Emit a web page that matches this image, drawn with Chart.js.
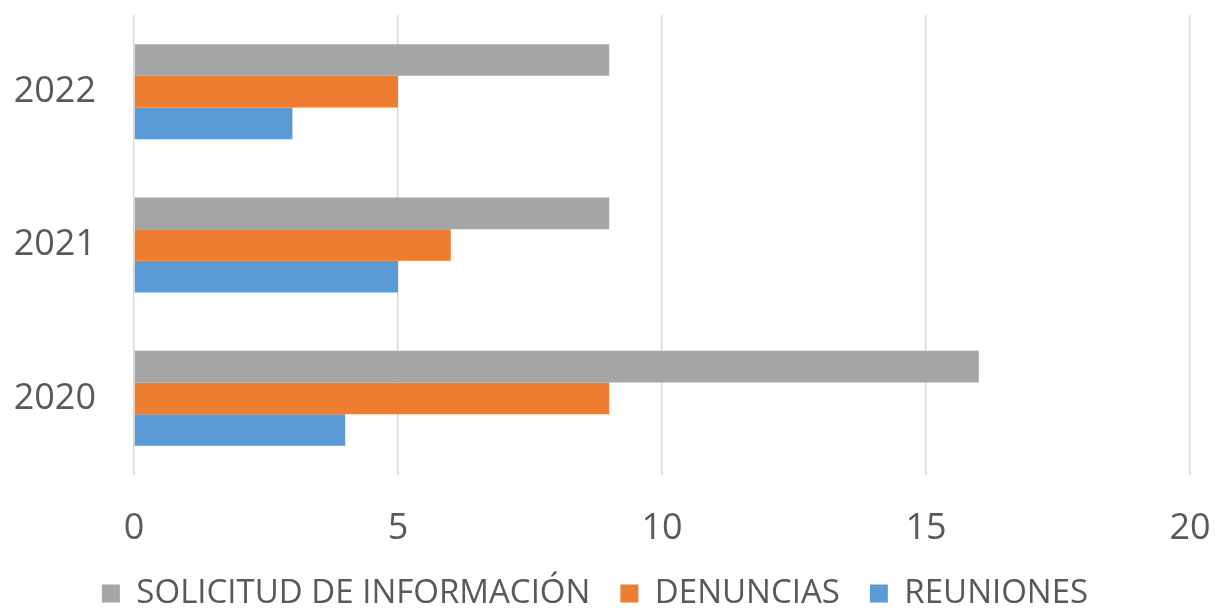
<!DOCTYPE html>
<html>
<head>
<meta charset="utf-8">
<script src="https://cdn.jsdelivr.net/npm/chart.js@4"></script>
<style>
  html, body { margin: 0; padding: 0; background: #fff; }
</style>
</head>
<body>
<canvas id="myChart" width="1217" height="608"></canvas>
<script>
// data
var years = ["2022", "2021", "2020"];
var solicitud = [9, 9, 16];
var denuncias = [5, 6, 9];
var reuniones = [3, 5, 4];
var xMin = 0, xMax = 20, xStep = 5;

var textColor = "#595959";
var family = "'Open Sans', sans-serif";
var legendFont = { family: family, size: 33 };
var tickFont = { family: family, size: 36 };
var xTickFont = { family: family, size: 36, lineHeight: 0.8 };

var ctx = document.getElementById("myChart").getContext("2d");

var myChart = new Chart(ctx, {
  type: "bar",
  data: {
    labels: years,
    datasets: [
      { label: "SOLICITUD DE INFORMACIÓN", data: solicitud, backgroundColor: "#A5A5A5" },
      { label: "DENUNCIAS", data: denuncias, backgroundColor: "#ED7D31" },
      { label: "REUNIONES", data: reuniones, backgroundColor: "#5B9BD5" }
    ]
  },
  options: {
    indexAxis: "y",
    responsive: false,
    animation: false,
    datasets: {
      bar: { categoryPercentage: 0.62, barPercentage: 1, borderWidth: 0 }
    },
    layout: { padding: { top: 15, right: 27, left: 0, bottom: -12 } },
    scales: {
      x: {
        min: xMin,
        max: xMax,
        ticks: { stepSize: xStep, color: textColor, font: xTickFont, padding: 39 },
        grid: { color: "#D9D9D9", lineWidth: 1.5, drawTicks: false },
        border: { display: false },
        afterFit: function (scale) {
          scale.height = 72;
          scale.paddingLeft = 0;
          scale.paddingRight = 0;
        }
      },
      y: {
        grid: { display: false },
        border: { display: false },
        ticks: { color: textColor, font: tickFont, padding: 30 },
        afterFit: function (scale) {
          scale.width = 134;
          scale.paddingTop = 0;
          scale.paddingBottom = 0;
        }
      }
    },
    plugins: {
      legend: {
        position: "bottom",
        labels: { boxWidth: 18, boxHeight: 18, color: textColor, font: legendFont, padding: 30 }
      },
      tooltip: { enabled: false }
    }
  }
});
</script>
</body>
</html>
